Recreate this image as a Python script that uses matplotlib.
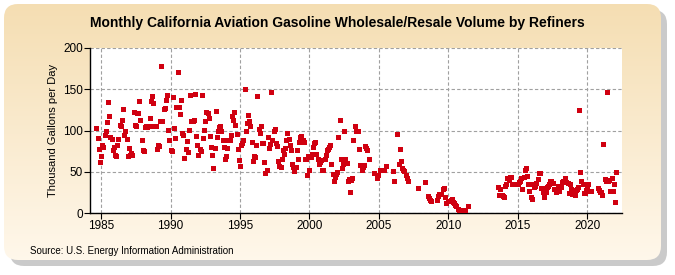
import numpy as np
import matplotlib
matplotlib.use("Agg")
import matplotlib.pyplot as plt
from matplotlib.patches import FancyBboxPatch

plt.rcParams['font.family'] = ['Liberation Sans Narrow', 'Liberation Sans', 'DejaVu Sans']

# monthly values, thousand gallons per day (None = no data), Jan..Dec
v1984_89 = ([None] * 8 + [103, 91, 78, 62] +
            [69, 82, 80, 95, 100, 110, 134, 118, 92, 90, 76, 80] +
            [70, 69, 83, 90, 107, 105, 113, 126, 94, 100, 90, 69] +
            [79, 70, 73, 70, 123, 107, 105, 121, 121, 136, 113, 88] +
            [76, 75, 104, 105, 104, 106, 115, 136, 142, 133, 105, 106] +
            [77, 82, 81, 112, 178, 112, 126, 127, 137, 143, 101, 88])
v1990s = ([76, 75, 140, 103, 91, 129, 171, 129, 120, 137, 97, 94] +
          [67, 77, 87, 74, 101, 143, 111, 111, 113, 144, 93, 83] +
          [70, 78, 75, 143, 91, 101, 111, 122, 121, 115, 93, 80] +
          [70, 54, 79, 124, 92, 100, 104, 106, 100, 89, 80, 66] +
          [69, 79, 88, 89, 94, 117, 113, 123, 107, 96, 77, 64] +
          [57, 82, 85, 89, 150, 100, 109, 119, 111, 106, 86, 63] +
          [69, 68, 82, 142, 102, 97, 106, 85, 85, 62, 48, 52] +
          [92, 79, 84, 147, 88, 100, 102, 85, 81, 63, 57, 56] +
          [65, 76, 71, 79, 88, 97, 90, 82, 76, 59, 56, 51] +
          [56, 76, 66, 86, 92, 93, 88, 86, 66, 66, 46, 69])
v2000s = ([52, 68, 71, 80, 85, 86, 72, 65, 60, 62, 64, 52] +
          [52, 66, 70, 76, 78, 80, 83, 59, 47, 39, 44, 47] +
          [50, 92, 113, 65, 54, 59, 100, 66, 61, 39, 41, 26] +
          [40, 42, 88, 105, 100, 100, 100, 78, 58, 52, 56, 58] +
          [81, 79, 76, 65, None, None, None, None, 48, None, 43, 46] +
          [None, 52, None, None, 52, None, 57, None, None, None, None, None] +
          [51, 39, None, None, 96, 59, 77, 63, 55, 52, 51, 46] +
          [43, 39, None, None, None, None, None, None, None, None, 30, None] +
          [None, None, None, None, 38, None, 21, 18, 16, 15, None, None] +
          [None, None, 16, 21, 23, None, 23, 29, 30, 20, 12, None])
v2010s = ([14, 15, 16, 17, 13, 12, 10, 8, 5, 4, 4, 4] +
          [4, 4, 4, None, None, 9] + [None] * 6 +
          [None] * 12 +
          [None] * 7 + [31, 22, 29, 22, 21] +
          [19, 33, 35, 43, 40, 44, 44, 35, 35, 35, 35, 35] +
          [35, 37, 39, 43, 29, 44, 52, 55, 45, 35, 27, 19] +
          [17, 35, 31, 33, 36, 41, 48, 48, 30, 30, 25, 19] +
          [26, 31, 33, 35, 39, 39, 36, 29, 29, 25, 27, 33] +
          [27, 32, 38, 39, 39, 43, 37, 36, 24, 35, 29, 23] +
          [27, 22, 28, 29, 32, 125, 50, 39, 35, 24, 24, 28])
v2020s = ([33, 35, 27, 27, None, None, None, None, None, 30, 28, 25] +
          [26, 22, 84, 41, 39, 147, 39, 40, 27, 43, 27, 35] +
          [13, 50])

blocks = [(1984, v1984_89), (1990, v1990s), (2000, v2000s), (2010, v2010s), (2020, v2020s)]
xs, ys = [], []
for start, vals in blocks:
    for i, v in enumerate(vals):
        if v is not None:
            xs.append(start + i / 12.0)
            ys.append(v)
xs = np.array(xs)
ys = np.array(ys)

fig = plt.figure(figsize=(6.75, 2.75), dpi=100)

# background: shadow + rounded beige gradient box
bg = fig.add_axes([0, 0, 1, 1])
bg.set_xlim(0, 675)
bg.set_ylim(275, 0)
bg.axis('off')
shadow = FancyBboxPatch((10, 10), 657, 256, boxstyle="round,pad=0,rounding_size=14",
                        fc='#a8a8a8', ec='none', alpha=0.6, transform=bg.transData)
bg.add_patch(shadow)
box = FancyBboxPatch((4, 4), 657, 256, boxstyle="round,pad=0,rounding_size=14",
                     fc='none', ec='none', transform=bg.transData)
bg.add_patch(box)
grad = np.linspace(0, 1, 256)[:, None]
c_top = np.array([0.96, 0.87, 0.70])
c_bot = np.array([1.0, 0.97, 0.92])
img = c_top[None, None, :] * (1 - grad[:, :, None]) + c_bot[None, None, :] * grad[:, :, None]
im = bg.imshow(img, extent=(4, 661, 260, 4), aspect='auto', zorder=1)
im.set_clip_path(box)

ax = fig.add_axes([90 / 675, 1 - 213 / 275, (622 - 90) / 675, (213 - 48) / 275])
ax.set_facecolor('white')
ax.plot(xs, ys, 's', color='#d00010', markersize=3.6, markeredgewidth=0, zorder=3)

ax.set_xlim(1984.2, 2022.5)
ax.set_ylim(0, 200)
ax.set_xticks(range(1985, 2021, 5))
ax.set_yticks(range(0, 201, 50))
ax.grid(True, color='#a0a0a0', linestyle=(0, (3, 2)), linewidth=0.8)
ax.set_axisbelow(True)
for s in ['top', 'right']:
    ax.spines[s].set_visible(False)
for s in ['left', 'bottom']:
    ax.spines[s].set_linewidth(1.0)
ax.tick_params(labelsize=8.5, length=4, width=0.8, pad=1)
ax.set_ylabel('Thousand Gallons per Day', fontsize=8)

fig.text(0.5, 0.915, 'Monthly California Aviation Gasoline Wholesale/Resale Volume by Refiners',
         ha='center', va='center', fontsize=10, fontweight='bold')
fig.text(30 / 675, 1 - 251 / 275, 'Source: U.S. Energy Information Administration',
         ha='left', va='center', fontsize=7)

fig.savefig('out.png', dpi=100)
